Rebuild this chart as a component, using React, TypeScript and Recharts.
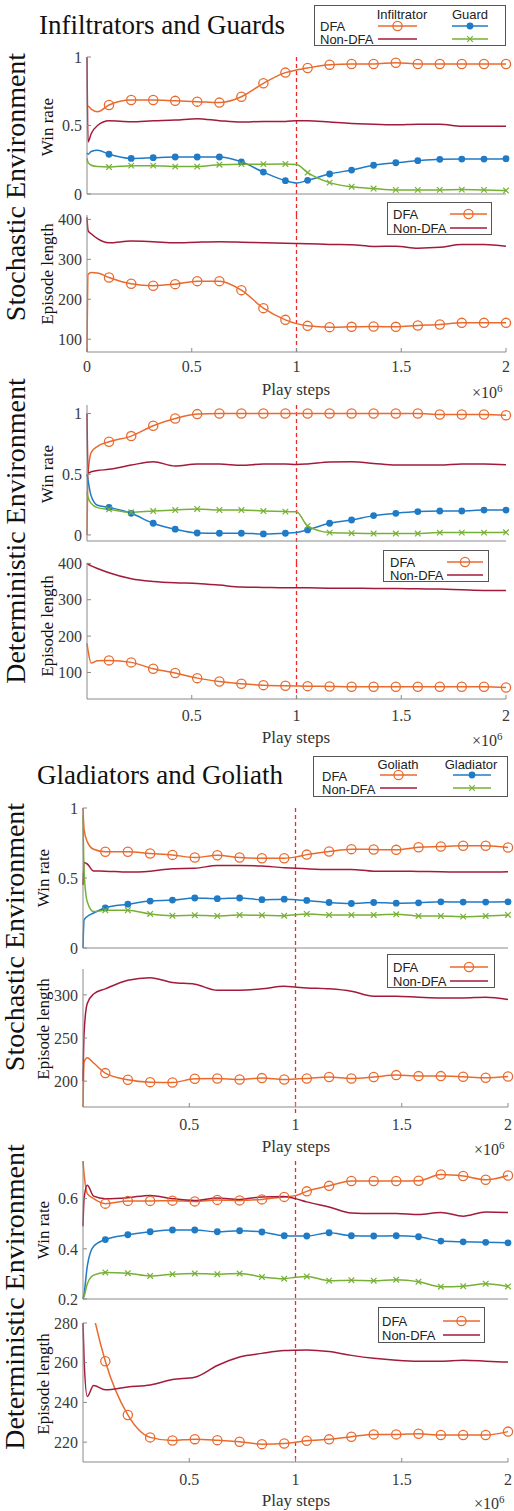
import React from 'react';
import { LineChart, Line, XAxis, YAxis, ReferenceLine } from 'recharts';

// play steps, in units of 1e6
const STEPS = [0, 0.005, 0.02, 0.05, 0.105, 0.211, 0.316, 0.421, 0.526, 0.632, 0.737, 0.842, 0.947, 1.0, 1.053, 1.158, 1.263, 1.368, 1.474, 1.579, 1.684, 1.789, 1.895, 2.0];

// Infiltrators and Guards, stochastic
const IG_STO_WIN_INF_DFA = [0.64, 0.64, 0.62, 0.6, 0.65, 0.686, 0.686, 0.68, 0.674, 0.667, 0.71, 0.808, 0.886, 0.905, 0.92, 0.944, 0.949, 0.949, 0.958, 0.949, 0.949, 0.949, 0.949, 0.949];
const IG_STO_WIN_INF_NONDFA = [1.0, 0.38, 0.44, 0.5, 0.535, 0.528, 0.535, 0.54, 0.55, 0.535, 0.525, 0.53, 0.53, 0.535, 0.535, 0.525, 0.515, 0.51, 0.505, 0.51, 0.51, 0.495, 0.495, 0.495];
const IG_STO_WIN_GUARD_DFA = [0.3, 0.29, 0.31, 0.32, 0.29, 0.26, 0.265, 0.27, 0.27, 0.27, 0.235, 0.16, 0.097, 0.08, 0.1, 0.146, 0.175, 0.21, 0.228, 0.243, 0.253, 0.255, 0.255, 0.258];
const IG_STO_WIN_GUARD_NONDFA = [0.26, 0.23, 0.21, 0.2, 0.197, 0.207, 0.207, 0.2, 0.2, 0.214, 0.218, 0.218, 0.219, 0.215, 0.156, 0.083, 0.053, 0.04, 0.03, 0.03, 0.03, 0.032, 0.03, 0.025];
const IG_STO_LEN_DFA = [68, 262, 267, 266, 254.6, 238.8, 233.8, 237.9, 245.4, 245.4, 222.9, 177.8, 148.5, 139, 133.5, 130.2, 131, 131.8, 131, 134.3, 136.8, 141, 141, 141];
const IG_STO_LEN_NONDFA = [405, 372, 364, 352, 341.5, 345.7, 344, 341.5, 343, 344, 343, 341.5, 340, 339.5, 339, 337.3, 336.5, 332.3, 333, 328, 330, 337, 337, 333];

// Infiltrators and Guards, deterministic
const IG_DET_WIN_INF_DFA = [0.0, 0.5, 0.68, 0.73, 0.767, 0.814, 0.899, 0.959, 0.995, 1.0, 1.0, 1.0, 1.0, 1.0, 1.0, 1.0, 1.0, 1.0, 1.0, 1.0, 0.992, 0.992, 0.992, 0.986];
const IG_DET_WIN_INF_NONDFA = [1.0, 0.51, 0.52, 0.53, 0.54, 0.575, 0.603, 0.567, 0.584, 0.584, 0.573, 0.584, 0.584, 0.58, 0.584, 0.6, 0.603, 0.589, 0.575, 0.575, 0.575, 0.584, 0.584, 0.578];
const IG_DET_WIN_GUARD_DFA = [0.5, 0.45, 0.32, 0.245, 0.227, 0.178, 0.096, 0.047, 0.016, 0.014, 0.014, 0.008, 0.014, 0.02, 0.041, 0.096, 0.123, 0.159, 0.178, 0.192, 0.197, 0.197, 0.205, 0.205];
const IG_DET_WIN_GUARD_NONDFA = [0.35, 0.31, 0.26, 0.225, 0.211, 0.186, 0.197, 0.205, 0.214, 0.205, 0.205, 0.197, 0.192, 0.19, 0.074, 0.019, 0.014, 0.011, 0.011, 0.011, 0.019, 0.019, 0.019, 0.022];
const IG_DET_LEN_DFA = [180, 160, 126, 132, 133.2, 127.7, 110.2, 98.3, 84.4, 75.3, 68.8, 65.1, 63.3, 62.8, 62.4, 61.5, 60.5, 60.5, 60.5, 60.5, 60.5, 60.5, 60.5, 58.7];
const IG_DET_LEN_NONDFA = [400, 398, 393, 386, 374.2, 357.7, 350.3, 346.6, 344.8, 340.2, 334.7, 333.8, 332.8, 332.8, 332.8, 331.9, 331.9, 331, 331, 330, 329.2, 327.3, 325.5, 325.5];

// Gladiators and Goliath, stochastic
const GG_STO_WIN_GOL_DFA = [1.0, 0.85, 0.76, 0.705, 0.687, 0.687, 0.675, 0.665, 0.646, 0.663, 0.646, 0.641, 0.641, 0.65, 0.667, 0.689, 0.706, 0.704, 0.701, 0.72, 0.725, 0.73, 0.73, 0.718];
const GG_STO_WIN_GOL_NONDFA = [0.45, 0.61, 0.6, 0.55, 0.549, 0.542, 0.549, 0.566, 0.569, 0.59, 0.59, 0.586, 0.573, 0.57, 0.566, 0.561, 0.561, 0.549, 0.549, 0.547, 0.545, 0.542, 0.542, 0.545];
const GG_STO_WIN_GLAD_DFA = [0.0, 0.2, 0.225, 0.25, 0.287, 0.313, 0.335, 0.342, 0.357, 0.352, 0.357, 0.345, 0.349, 0.345, 0.34, 0.325, 0.318, 0.325, 0.32, 0.323, 0.33, 0.328, 0.328, 0.33];
const GG_STO_WIN_GLAD_NONDFA = [0.95, 0.55, 0.33, 0.26, 0.27, 0.27, 0.243, 0.231, 0.234, 0.229, 0.236, 0.234, 0.231, 0.238, 0.243, 0.236, 0.236, 0.236, 0.241, 0.229, 0.229, 0.224, 0.229, 0.236];
const GG_STO_LEN_DFA = [170, 222, 227, 221, 209.3, 201.6, 198.8, 198.4, 202.7, 203.1, 201.9, 203.5, 201.9, 202.5, 203.1, 204.7, 203.1, 204.7, 207, 205.8, 205.8, 205, 203.9, 205.4];
const GG_STO_LEN_NONDFA = [200, 255, 290, 301, 307, 317, 320, 314.3, 312.4, 305.4, 305.4, 307, 310, 309, 308.1, 307, 304.3, 298.4, 298.4, 297.3, 296.5, 296.5, 297.3, 294.6];

// Gladiators and Goliath, deterministic
const GG_DET_WIN_GOL_DFA = [0.75, 0.7, 0.62, 0.6, 0.58, 0.591, 0.591, 0.592, 0.589, 0.595, 0.593, 0.597, 0.607, 0.612, 0.629, 0.651, 0.67, 0.67, 0.67, 0.671, 0.696, 0.69, 0.675, 0.692];
const GG_DET_WIN_GOL_NONDFA = [0.49, 0.6, 0.653, 0.61, 0.6, 0.604, 0.613, 0.6, 0.593, 0.603, 0.597, 0.607, 0.609, 0.6, 0.587, 0.567, 0.543, 0.541, 0.541, 0.537, 0.545, 0.53, 0.547, 0.545];
const GG_DET_WIN_GLAD_DFA = [0.2, 0.22, 0.33, 0.41, 0.437, 0.456, 0.468, 0.475, 0.475, 0.468, 0.472, 0.467, 0.452, 0.451, 0.451, 0.464, 0.452, 0.451, 0.452, 0.448, 0.431, 0.428, 0.426, 0.424];
const GG_DET_WIN_GLAD_NONDFA = [0.2, 0.21, 0.26, 0.295, 0.306, 0.303, 0.292, 0.299, 0.302, 0.299, 0.302, 0.288, 0.281, 0.287, 0.29, 0.273, 0.275, 0.273, 0.277, 0.269, 0.249, 0.251, 0.261, 0.25];
const GG_DET_LEN_DFA = [330, 318, 300, 284, 260.7, 233.7, 222.4, 220.8, 221.5, 221, 220.2, 219, 219.3, 220, 220.7, 221.4, 222.7, 223.9, 223.9, 224.2, 223.6, 223.6, 223.6, 225.3];
const GG_DET_LEN_NONDFA = [280, 262, 243, 248.5, 246.4, 247.8, 248.8, 251.5, 252.7, 258.6, 262.9, 264.7, 266.1, 266.3, 266.4, 265.6, 263.7, 262.2, 261.2, 260.7, 260.7, 261.2, 260.8, 260.3];

const WIN_TICKS = [0, 0.5, 1];
const LEN_TICKS = [100, 200, 300, 400];
const X_TICKS_FULL = [0, 0.5, 1, 1.5, 2];
const X_TICKS_NOZERO = [0.5, 1, 1.5, 2];

const ORANGE = '#EA6A2D';
const RED = '#A31B3A';
const BLUE = '#1F7BC6';
const GREEN = '#76B135';
const DASH = '#F0282A';
const FRAME = '#8a8a8a';
const SERIF = 'Liberation Serif, DejaVu Serif, serif';
const SANS = 'Liberation Sans, Arial, sans-serif';

type Marker = 'circle' | 'dot' | 'cross' | 'none';
type SeriesDef = { name: string; values: number[]; color: string; marker: Marker };

// markers sit on the regular grid, not on the early samples or on the 1.0 sample
const isMarker = (i: number) => i >= 4 && STEPS[i] !== 1;

function markerRenderer(marker: Marker, color: string) {
  return (props: any) => {
    const { cx, cy, index } = props;
    const k = `m-${index}`;
    if (marker === 'none' || !isMarker(index) || cx == null || cy == null) return <g key={k} />;
    if (marker === 'circle')
      return <circle key={k} cx={cx} cy={cy} r={4.6} fill="none" stroke={color} strokeWidth={1.3} />;
    if (marker === 'dot') return <circle key={k} cx={cx} cy={cy} r={3.4} fill={color} stroke="none" />;
    const d = 2.8;
    return (
      <g key={k} stroke={color} strokeWidth={1.2}>
        <line x1={cx - d} y1={cy - d} x2={cx + d} y2={cy + d} />
        <line x1={cx - d} y1={cy + d} x2={cx + d} y2={cy - d} />
      </g>
    );
  };
}

const tickTextStyle: React.CSSProperties = { fontFamily: SERIF, fontSize: 16, fill: '#3a3a3a' };

const XTick = (props: any) => (
  <text x={props.x} y={props.y} dy="0.71em" textAnchor="middle" style={tickTextStyle}>
    {String(props.payload.value)}
  </text>
);

const YTick = (props: any) => (
  <text x={props.x} y={props.y} dy="0.36em" textAnchor="end" style={tickTextStyle}>
    {String(props.payload.value)}
  </text>
);

type PanelProps = {
  top: number;
  bottom: number;
  left: number;
  right: number;
  domain: [number, number];
  yTicks: number[];
  xTicks: number[];
  xLabels: boolean;
  xTickMargin?: number;
  clip?: boolean;
  extTop?: number;
  extBottom?: number;
  series: SeriesDef[];
};

function Panel(p: PanelProps) {
  const MT = 30;
  const XH = 34;
  const YW = 50;
  const h = p.bottom - p.top;
  const data = STEPS.map((s, i) => {
    const row: Record<string, number> = { s };
    p.series.forEach((sr) => {
      row[sr.name] = sr.values[i];
    });
    return row;
  });
  const extTop = p.extTop ?? 0;
  const extBottom = p.extBottom ?? 0;
  return (
    <div style={{ position: 'absolute', left: 0, top: p.top - MT }}>
      <LineChart
        width={514}
        height={h + MT + XH}
        data={data}
        margin={{ top: MT, right: 514 - p.right, bottom: 0, left: p.left - YW }}
      >
        <XAxis
          dataKey="s"
          type="number"
          domain={[0, 2]}
          ticks={p.xTicks}
          tick={p.xLabels ? <XTick /> : false}
          tickSize={-4}
          tickMargin={p.xTickMargin ?? 14}
          height={XH}
          axisLine={{ stroke: FRAME }}
          tickLine={{ stroke: FRAME }}
        />
        <XAxis
          xAxisId="top"
          orientation="top"
          dataKey="s"
          type="number"
          domain={[0, 2]}
          ticks={X_TICKS_FULL}
          tick={false}
          tickSize={-4}
          height={0}
          axisLine={{ stroke: FRAME }}
          tickLine={{ stroke: FRAME }}
        />
        <YAxis
          type="number"
          domain={p.domain}
          ticks={p.yTicks}
          allowDataOverflow={!!p.clip}
          tick={<YTick />}
          tickSize={-4}
          tickMargin={9}
          width={YW}
          axisLine={{ stroke: FRAME }}
          tickLine={{ stroke: FRAME }}
        />
        <YAxis
          yAxisId="right"
          orientation="right"
          type="number"
          domain={p.domain}
          ticks={p.yTicks}
          allowDataOverflow
          tick={false}
          tickSize={-4}
          width={0}
          axisLine={{ stroke: FRAME }}
          tickLine={{ stroke: FRAME }}
        />
        <ReferenceLine
          x={1}
          shape={(sp: any) => {
            const y0 = Math.min(sp.y1, sp.y2) - extTop;
            const y1 = Math.max(sp.y1, sp.y2) + extBottom;
            return (
              <line x1={sp.x1} x2={sp.x2} y1={y0} y2={y1} stroke={DASH} strokeWidth={1.3} strokeDasharray="4 3" />
            );
          }}
        />
        {p.series.map((sr) => (
          <Line
            key={sr.name}
            dataKey={sr.name}
            type="monotone"
            stroke={sr.color}
            strokeWidth={1.5}
            dot={markerRenderer(sr.marker, sr.color)}
            activeDot={false}
            isAnimationActive={false}
          />
        ))}
      </LineChart>
    </div>
  );
}

function VText({ x, y, size, text }: { x: number; y: number; size: number; text: string }) {
  return (
    <div
      style={{
        position: 'absolute',
        left: x,
        top: y,
        transform: 'translate(-50%, -50%) rotate(-90deg)',
        whiteSpace: 'nowrap',
        fontFamily: SERIF,
        fontSize: size,
        lineHeight: 1,
        color: '#111',
      }}
    >
      {text}
    </div>
  );
}

function XLabel({ cx, y, right }: { cx: number; y: number; right: number }) {
  return (
    <>
      <div
        style={{
          position: 'absolute',
          left: cx,
          top: y,
          transform: 'translate(-50%, -50%)',
          fontFamily: SERIF,
          fontSize: 17,
          lineHeight: 1,
          color: '#333',
          whiteSpace: 'nowrap',
        }}
      >
        Play steps
      </div>
      <div
        style={{
          position: 'absolute',
          left: right - 32,
          top: y - 6,
          fontFamily: SERIF,
          fontSize: 16,
          lineHeight: 1,
          color: '#333',
          whiteSpace: 'nowrap',
        }}
      >
        ×10<sup style={{ fontSize: 11 }}>6</sup>
      </div>
    </>
  );
}

type LegendSample = { x1: number; x2: number; y: number; color: string; marker: Marker };
type LegendText = { text: string; x: number; y: number; anchor?: 'start' | 'middle' };

function LegendBox({
  left,
  top,
  width,
  height,
  texts,
  samples,
}: {
  left: number;
  top: number;
  width: number;
  height: number;
  texts: LegendText[];
  samples: LegendSample[];
}) {
  return (
    <div
      style={{
        position: 'absolute',
        left,
        top,
        width,
        height,
        border: '1px solid #555',
        background: '#fff',
        boxSizing: 'border-box',
      }}
    >
      <svg width={width} height={height} style={{ position: 'absolute', left: -1, top: -1 }}>
        {texts.map((t) => (
          <text
            key={t.text}
            x={t.x}
            y={t.y}
            textAnchor={t.anchor ?? 'start'}
            dominantBaseline="central"
            style={{ fontFamily: SANS, fontSize: 13, fill: '#222' }}
          >
            {t.text}
          </text>
        ))}
        {samples.map((s, i) => {
          const mx = (s.x1 + s.x2) / 2;
          return (
            <g key={i}>
              <line x1={s.x1} x2={s.x2} y1={s.y} y2={s.y} stroke={s.color} strokeWidth={1.5} />
              {markerRenderer(s.marker, s.color)({ cx: mx, cy: s.y, index: 4 })}
            </g>
          );
        })}
      </svg>
    </div>
  );
}

const dfaTexts = (y1: number, y2: number, x: number): LegendText[] => [
  { text: 'DFA', x, y: y1 },
  { text: 'Non-DFA', x, y: y2 },
];

export default function App() {
  return (
    <div style={{ position: 'absolute', left: 0, top: 0, width: 514, height: 1511, background: '#fff', overflow: 'hidden' }}>
      {/* section titles */}
      <div style={{ position: 'absolute', left: 39, top: 10, fontFamily: SERIF, fontSize: 27, lineHeight: '30px', color: '#111', whiteSpace: 'nowrap' }}>
        Infiltrators and Guards
      </div>
      <div style={{ position: 'absolute', left: 37, top: 760, fontFamily: SERIF, fontSize: 27, lineHeight: '30px', color: '#111', whiteSpace: 'nowrap' }}>
        Gladiators and Goliath
      </div>

      <VText x={16} y={187} size={28} text="Stochastic Environment" />
      <VText x={16} y={531} size={28} text="Deterministic Environment" />
      <VText x={15} y={937} size={28} text="Stochastic Environment" />
      <VText x={15} y={1297} size={28} text="Deterministic Environment" />

      <VText x={47} y={127} size={17} text="Win rate" />
      <VText x={47} y={274} size={17} text="Episode length" />
      <VText x={47} y={474} size={17} text="Win rate" />
      <VText x={47} y={626} size={17} text="Episode length" />
      <VText x={43} y={878} size={17} text="Win rate" />
      <VText x={43} y={1029} size={17} text="Episode length" />
      <VText x={43} y={1230} size={17} text="Win rate" />
      <VText x={43} y={1384} size={17} text="Episode length" />

      <Panel
        top={57}
        bottom={194}
        left={87}
        right={506}
        domain={[0, 1]}
        yTicks={WIN_TICKS}
        xTicks={X_TICKS_FULL}
        xLabels={false}
        extBottom={21}
        series={[
          { name: 'infDfa', values: IG_STO_WIN_INF_DFA, color: ORANGE, marker: 'circle' },
          { name: 'infNon', values: IG_STO_WIN_INF_NONDFA, color: RED, marker: 'none' },
          { name: 'guardDfa', values: IG_STO_WIN_GUARD_DFA, color: BLUE, marker: 'dot' },
          { name: 'guardNon', values: IG_STO_WIN_GUARD_NONDFA, color: GREEN, marker: 'cross' },
        ]}
      />
      <Panel
        top={215}
        bottom={352}
        left={87}
        right={506}
        domain={[68, 411]}
        yTicks={LEN_TICKS}
        xTicks={X_TICKS_FULL}
        xLabels
        xTickMargin={13}
        clip
        series={[
          { name: 'dfa', values: IG_STO_LEN_DFA, color: ORANGE, marker: 'circle' },
          { name: 'non', values: IG_STO_LEN_NONDFA, color: RED, marker: 'none' },
        ]}
      />
      <XLabel cx={296} y={389} right={504} />

      <Panel
        top={405}
        bottom={541}
        left={87}
        right={506}
        domain={[-0.05, 1.07]}
        yTicks={WIN_TICKS}
        xTicks={X_TICKS_FULL}
        xLabels={false}
        extBottom={22}
        series={[
          { name: 'infDfa', values: IG_DET_WIN_INF_DFA, color: ORANGE, marker: 'circle' },
          { name: 'infNon', values: IG_DET_WIN_INF_NONDFA, color: RED, marker: 'none' },
          { name: 'guardDfa', values: IG_DET_WIN_GUARD_DFA, color: BLUE, marker: 'dot' },
          { name: 'guardNon', values: IG_DET_WIN_GUARD_NONDFA, color: GREEN, marker: 'cross' },
        ]}
      />
      <Panel
        top={563}
        bottom={699}
        left={87}
        right={506}
        domain={[27, 401]}
        yTicks={LEN_TICKS}
        xTicks={X_TICKS_NOZERO}
        xLabels
        xTickMargin={15}
        series={[
          { name: 'dfa', values: IG_DET_LEN_DFA, color: ORANGE, marker: 'circle' },
          { name: 'non', values: IG_DET_LEN_NONDFA, color: RED, marker: 'none' },
        ]}
      />
      <XLabel cx={296} y={737} right={504} />

      <Panel
        top={808}
        bottom={948}
        left={83}
        right={508}
        domain={[0, 1]}
        yTicks={WIN_TICKS}
        xTicks={X_TICKS_FULL}
        xLabels={false}
        extBottom={21}
        series={[
          { name: 'golDfa', values: GG_STO_WIN_GOL_DFA, color: ORANGE, marker: 'circle' },
          { name: 'golNon', values: GG_STO_WIN_GOL_NONDFA, color: RED, marker: 'none' },
          { name: 'gladDfa', values: GG_STO_WIN_GLAD_DFA, color: BLUE, marker: 'dot' },
          { name: 'gladNon', values: GG_STO_WIN_GLAD_NONDFA, color: GREEN, marker: 'cross' },
        ]}
      />
      <Panel
        top={969}
        bottom={1107}
        left={83}
        right={508}
        domain={[170, 330]}
        yTicks={[200, 250, 300]}
        xTicks={X_TICKS_NOZERO}
        xLabels
        xTickMargin={16}
        extBottom={6}
        series={[
          { name: 'dfa', values: GG_STO_LEN_DFA, color: ORANGE, marker: 'circle' },
          { name: 'non', values: GG_STO_LEN_NONDFA, color: RED, marker: 'none' },
        ]}
      />
      <XLabel cx={296} y={1146} right={506} />

      <Panel
        top={1161}
        bottom={1299}
        left={83}
        right={508}
        domain={[0.2, 0.75]}
        yTicks={[0.2, 0.4, 0.6]}
        xTicks={X_TICKS_FULL}
        xLabels={false}
        extBottom={22}
        series={[
          { name: 'golDfa', values: GG_DET_WIN_GOL_DFA, color: ORANGE, marker: 'circle' },
          { name: 'golNon', values: GG_DET_WIN_GOL_NONDFA, color: RED, marker: 'none' },
          { name: 'gladDfa', values: GG_DET_WIN_GLAD_DFA, color: BLUE, marker: 'dot' },
          { name: 'gladNon', values: GG_DET_WIN_GLAD_NONDFA, color: GREEN, marker: 'cross' },
        ]}
      />
      <Panel
        top={1323}
        bottom={1462}
        left={83}
        right={508}
        domain={[210, 280]}
        yTicks={[220, 240, 260, 280]}
        xTicks={X_TICKS_NOZERO}
        xLabels
        xTickMargin={16}
        clip
        series={[
          { name: 'dfa', values: GG_DET_LEN_DFA, color: ORANGE, marker: 'circle' },
          { name: 'non', values: GG_DET_LEN_NONDFA, color: RED, marker: 'none' },
        ]}
      />
      <XLabel cx={296} y={1500} right={506} />

      {/* legends */}
      <LegendBox
        left={314}
        top={5}
        width={192}
        height={41}
        texts={[
          { text: 'Infiltrator', x: 88, y: 9, anchor: 'middle' },
          { text: 'Guard', x: 156, y: 9, anchor: 'middle' },
          ...dfaTexts(21, 34, 6),
        ]}
        samples={[
          { x1: 64, x2: 103, y: 21, color: ORANGE, marker: 'circle' },
          { x1: 138, x2: 174, y: 21, color: BLUE, marker: 'dot' },
          { x1: 64, x2: 103, y: 34, color: RED, marker: 'none' },
          { x1: 138, x2: 174, y: 34, color: GREEN, marker: 'cross' },
        ]}
      />
      <LegendBox
        left={387}
        top={202}
        width={105}
        height={33}
        texts={dfaTexts(12, 26, 6)}
        samples={[
          { x1: 63, x2: 100, y: 12, color: ORANGE, marker: 'circle' },
          { x1: 63, x2: 100, y: 26, color: RED, marker: 'none' },
        ]}
      />
      <LegendBox
        left={383}
        top={550}
        width={106}
        height={32}
        texts={dfaTexts(12, 25, 7)}
        samples={[
          { x1: 64, x2: 100, y: 12, color: ORANGE, marker: 'circle' },
          { x1: 64, x2: 100, y: 25, color: RED, marker: 'none' },
        ]}
      />
      <LegendBox
        left={313}
        top={756}
        width={195}
        height={41}
        texts={[
          { text: 'Goliath', x: 85, y: 8, anchor: 'middle' },
          { text: 'Gladiator', x: 158, y: 8, anchor: 'middle' },
          ...dfaTexts(20, 33, 9),
        ]}
        samples={[
          { x1: 67, x2: 104, y: 19, color: ORANGE, marker: 'circle' },
          { x1: 140, x2: 178, y: 19, color: BLUE, marker: 'dot' },
          { x1: 67, x2: 104, y: 32, color: RED, marker: 'none' },
          { x1: 140, x2: 178, y: 32, color: GREEN, marker: 'cross' },
        ]}
      />
      <LegendBox
        left={387}
        top={954}
        width={108}
        height={34}
        texts={dfaTexts(13, 27, 6)}
        samples={[
          { x1: 63, x2: 101, y: 13, color: ORANGE, marker: 'circle' },
          { x1: 63, x2: 101, y: 27, color: RED, marker: 'none' },
        ]}
      />
      <LegendBox
        left={378}
        top={1307}
        width={107}
        height={36}
        texts={dfaTexts(14, 28, 4)}
        samples={[
          { x1: 65, x2: 102, y: 14, color: ORANGE, marker: 'circle' },
          { x1: 65, x2: 102, y: 28, color: RED, marker: 'none' },
        ]}
      />
    </div>
  );
}
